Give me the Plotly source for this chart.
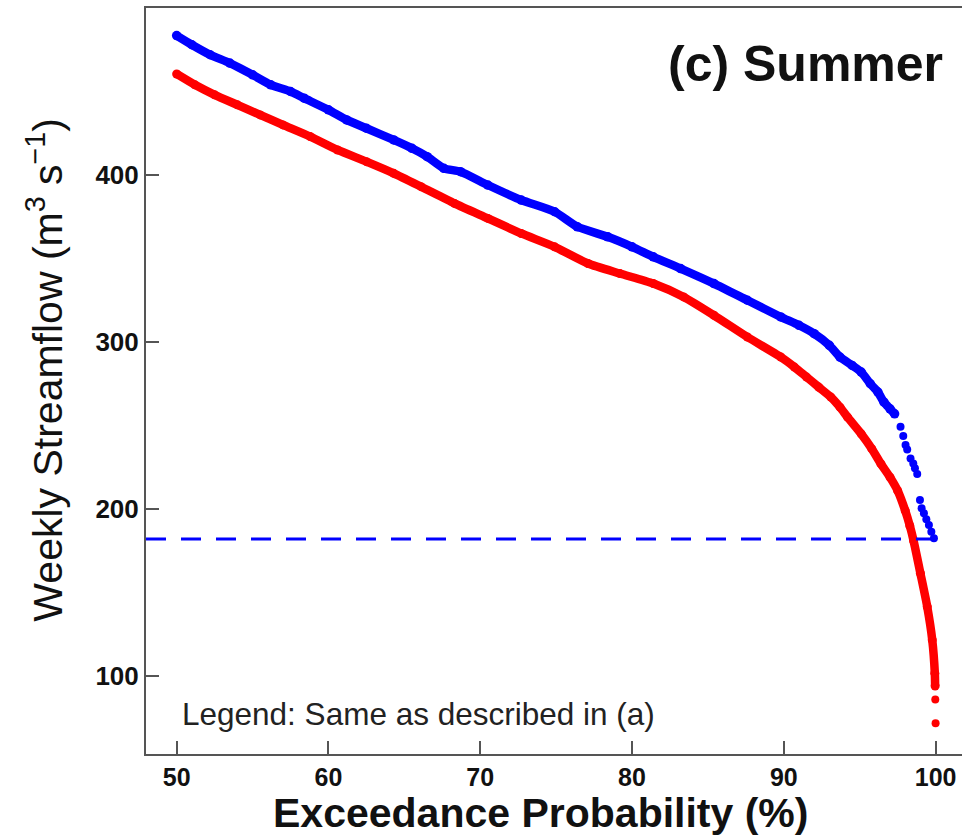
import plotly.graph_objects as go

# Exceedance probability (%) and weekly streamflow (m3/s), upper curve (blue)
blue_prob = [50.0, 51.0, 52.2, 53.5, 55.0, 56.2, 57.5, 58.4, 60.0, 61.2, 62.5, 64.3,
             65.5, 66.5, 67.6, 68.7, 70.5, 72.7, 74.9, 76.4, 78.4, 80.0, 81.4, 83.2,
             85.4, 87.6, 89.8, 91.0, 92.0, 93.0, 93.7, 94.5, 95.1, 95.7, 96.2, 96.6,
             97.0, 97.3]
blue_flow = [483.5, 478, 472, 467, 460, 454, 450, 446, 439, 433, 428, 421,
             416, 411, 404, 402, 394, 385, 378, 369, 363, 357, 351, 344,
             335, 325, 315, 310, 305, 298, 291, 286, 282, 275, 270, 264,
             260, 257]
# sparse low-flow tail of the upper curve
blue_tail_prob = [97.69, 97.87, 98.02, 98.13, 98.35, 98.53, 98.64, 98.79,
                  98.97, 99.08, 99.23, 99.39, 99.56, 99.72, 99.89]
blue_tail_flow = [249.3, 243.7, 238.3, 235.7, 230.3, 227.3, 224.4, 221.0,
                  205.4, 200.4, 197.4, 193.8, 190.4, 186.4, 182.5]

# lower curve (red)
red_prob = [50.0, 51.2, 52.5, 54.0, 55.5, 57.0, 58.8, 60.6, 62.5, 64.3, 66.1, 68.3,
            70.5, 72.7, 74.9, 77.1, 79.2, 81.4, 83.4, 85.4, 87.6, 89.8, 90.7, 91.5,
            92.3, 93.1, 93.7, 94.2, 95.1, 95.8, 96.4, 97.0, 97.5, 98.0, 98.3, 98.55,
            99.0, 99.45, 99.78, 99.95, 99.97]
red_flow = [460.5, 454, 448, 442, 436, 430, 423, 415, 408, 401, 393, 383,
            374, 365, 357, 347, 341, 335, 327, 316, 303, 291, 285, 279,
            273, 267, 261, 255, 245, 236, 227, 219, 211, 199, 190, 181,
            161.5, 141.5, 121.6, 101.7, 94]
red_tail_prob = [99.98, 100.0]
red_tail_flow = [86, 71.7]

threshold = 182.0
threshold_span = [47.98, 101.0]

x_ticks = [50, 60, 70, 80, 90, 100]
y_ticks = [100, 200, 300, 400]

BLUE = "#0000FF"
RED = "#FF0000"
INK = "#111111"
AXIS = "#555555"
FONT = "Liberation Sans, Arial, sans-serif"

fig = go.Figure()

fig.add_trace(go.Scatter(x=blue_prob, y=blue_flow, mode="lines+markers",
                         line=dict(color=BLUE, width=8.5, shape="spline", smoothing=0.6),
                         marker=dict(color=BLUE, size=9.5), showlegend=False))
fig.add_trace(go.Scatter(x=blue_tail_prob, y=blue_tail_flow, mode="markers",
                         marker=dict(color=BLUE, size=8), showlegend=False))
fig.add_trace(go.Scatter(x=red_prob, y=red_flow, mode="lines+markers",
                         line=dict(color=RED, width=8.5, shape="spline", smoothing=0.6),
                         marker=dict(color=RED, size=9), showlegend=False))
fig.add_trace(go.Scatter(x=red_tail_prob, y=red_tail_flow, mode="markers",
                         marker=dict(color=RED, size=8), showlegend=False))
fig.add_trace(go.Scatter(x=threshold_span, y=[threshold, threshold], mode="lines",
                         line=dict(color=BLUE, width=3, dash="20px,15px"),
                         showlegend=False))

fig.update_layout(
    width=962, height=838,
    margin=dict(l=146, r=0, t=8, b=84),
    paper_bgcolor="white", plot_bgcolor="white",
    font=dict(family=FONT, color=INK),
    xaxis=dict(range=[47.98, 101.74], tickvals=x_ticks, ticks="inside", ticklen=13,
               tickwidth=1.5, tickcolor=AXIS, showline=True, linecolor=AXIS,
               linewidth=2, mirror=True, showgrid=False, zeroline=False,
               tickfont=dict(size=25, weight="bold", color=INK)),
    yaxis=dict(range=[53.3, 500], tickvals=y_ticks, ticks="inside", ticklen=13,
               tickwidth=1.5, tickcolor=AXIS, showline=True, linecolor=AXIS,
               linewidth=2, showgrid=False, zeroline=False,
               tickfont=dict(size=26, weight="bold", color=INK)),
    annotations=[
        dict(text="<b>Exceedance Probability (%)</b>", xref="paper", yref="paper",
             x=0.484, y=-0.079, xanchor="center", yanchor="middle", showarrow=False,
             font=dict(size=41, color=INK)),
        dict(text="Weekly Streamflow (m<sup>3</sup> s<sup>\u22121</sup>)",
             xref="paper", yref="paper", x=-0.124, y=0.515, textangle=-90,
             xanchor="center", yanchor="middle", showarrow=False,
             font=dict(size=41, color=INK)),
        dict(text="<b>(c) Summer</b>", xref="paper", yref="paper", x=0.979, y=0.925,
             xanchor="right", yanchor="middle", showarrow=False,
             font=dict(size=50, color=INK)),
        dict(text="Legend: Same as described in (a)", xref="paper", yref="paper",
             x=0.042, y=0.053, xanchor="left", yanchor="middle", showarrow=False,
             font=dict(size=31.5, color="#222222")),
    ],
)

fig.write_html("out.html")
